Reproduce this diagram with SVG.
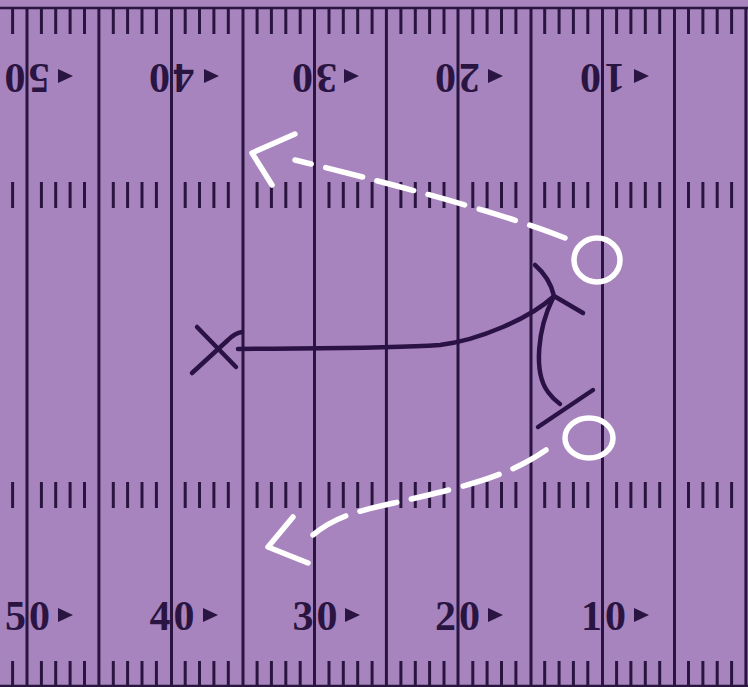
<svg xmlns="http://www.w3.org/2000/svg" xmlns:xlink="http://www.w3.org/1999/xlink" width="748" height="687" viewBox="0 0 748 687">
<style>
.yl{stroke:#2A1540;stroke-width:3;fill:none}
.bd{stroke:#2A1540;stroke-width:2.5;fill:none}
.tk{stroke:#2A1540;stroke-width:3;fill:none}
.num{font-family:"Liberation Serif","Times New Roman",serif;font-weight:bold;font-size:42px;fill:#2A1542}
.arr{fill:#2A1542}
.ink{stroke:#2A1245;stroke-width:4.5;fill:none;stroke-linecap:round;stroke-linejoin:round}
.wh{stroke:#FFFFFF;stroke-width:5.5;fill:none;stroke-linecap:round;stroke-linejoin:round}
.dash{stroke-dasharray:38 15}
</style>
<defs>
<path id="ticks" class="tk" d="M12.6 0v26M41.4 0v26M55.7 0v26M70.1 0v26M84.5 0v26M113.3 0v26M127.6 0v26M142 0v26M156.4 0v26M185.2 0v26M199.5 0v26M213.9 0v26M228.3 0v26M257.1 0v26M271.4 0v26M285.8 0v26M300.2 0v26M329 0v26M343.3 0v26M357.7 0v26M372.1 0v26M400.9 0v26M415.3 0v26M429.6 0v26M444 0v26M472.8 0v26M487.1 0v26M501.5 0v26M515.9 0v26M544.7 0v26M559.1 0v26M573.4 0v26M587.8 0v26M616.6 0v26M630.9 0v26M645.3 0v26M659.7 0v26M688.5 0v26M702.9 0v26M717.2 0v26M731.6 0v26"/>
<polygon id="tri" class="arr" points="0,-7 15,0 0,7"/>
</defs>
<rect x="0" y="0" width="748" height="687" fill="#A784BE"/>
<g id="field">
<path class="yl" d="M27 8V687M98.9 8V687M171.5 8V687M243 8V687M314.5 8V687M386.4 8V687M458 8V687M531 8V687M602.5 8V687M674.5 8V687M745.9 8V687"/>
<path class="bd" d="M0 8H748M0 686H748"/>
<use xlink:href="#ticks" y="8"/>
<use xlink:href="#ticks" y="182"/>
<use xlink:href="#ticks" y="482"/>
<use xlink:href="#ticks" y="661"/>
</g>
<g id="numbers-bottom">
<text class="num" x="5" y="630">5<tspan dx="3">0</tspan></text>
<use xlink:href="#tri" x="58" y="615"/>
<text class="num" x="149.5" y="630">4<tspan dx="3">0</tspan></text>
<use xlink:href="#tri" x="203" y="615"/>
<text class="num" x="292.5" y="630">3<tspan dx="3">0</tspan></text>
<use xlink:href="#tri" x="345" y="615"/>
<text class="num" x="435" y="630">2<tspan dx="3">0</tspan></text>
<use xlink:href="#tri" x="488" y="615"/>
<text class="num" x="581" y="630">1<tspan dx="3">0</tspan></text>
<use xlink:href="#tri" x="634" y="615"/>
</g>
<g id="numbers-top">
<text class="num" transform="translate(27.5 63.5) rotate(180)" x="-22" y="0">5<tspan dx="3">0</tspan></text>
<use xlink:href="#tri" x="58" y="76"/>
<text class="num" transform="translate(172 63.5) rotate(180)" x="-22" y="0">4<tspan dx="3">0</tspan></text>
<use xlink:href="#tri" x="204" y="76"/>
<text class="num" transform="translate(315 63.5) rotate(180)" x="-22" y="0">3<tspan dx="3">0</tspan></text>
<use xlink:href="#tri" x="344" y="76"/>
<text class="num" transform="translate(458 63.5) rotate(180)" x="-22" y="0">2<tspan dx="3">0</tspan></text>
<use xlink:href="#tri" x="488" y="76"/>
<text class="num" transform="translate(603 63.5) rotate(180)" x="-22" y="0">1<tspan dx="3">0</tspan></text>
<use xlink:href="#tri" x="634" y="76"/>
</g>
<g id="defender-x">
<path class="ink" d="M197 327L236 367"/>
<path class="ink" d="M192 373L228 340Q235 333 242 332"/>
</g>
<g id="receiver-top">
<ellipse class="wh" cx="597" cy="260" rx="23" ry="22"/>
</g>
<g id="receiver-bottom">
<ellipse class="wh" cx="589" cy="438" rx="24" ry="20"/>
</g>
<g id="connectors">
<path class="ink" d="M238 349C300 348 380 349 440 345C480 340 530 318 553 297"/>
<path class="ink" d="M535 265Q550 278 554 296L583 313"/>
<path class="ink" d="M553 298C538 328 533 372 548 392Q553 399 560 404"/>
<path class="ink" d="M538 427L593 390"/>
<path class="wh dash" d="M565 238Q490 208 295 160"/>
<path class="wh" d="M295 134L252 153L272 185"/>
<path class="wh dash" d="M546 450C510 475 470 485 420 497S340 512 313 535"/>
<path class="wh" d="M293 517L268 547L308 563"/>
</g>
</svg>
